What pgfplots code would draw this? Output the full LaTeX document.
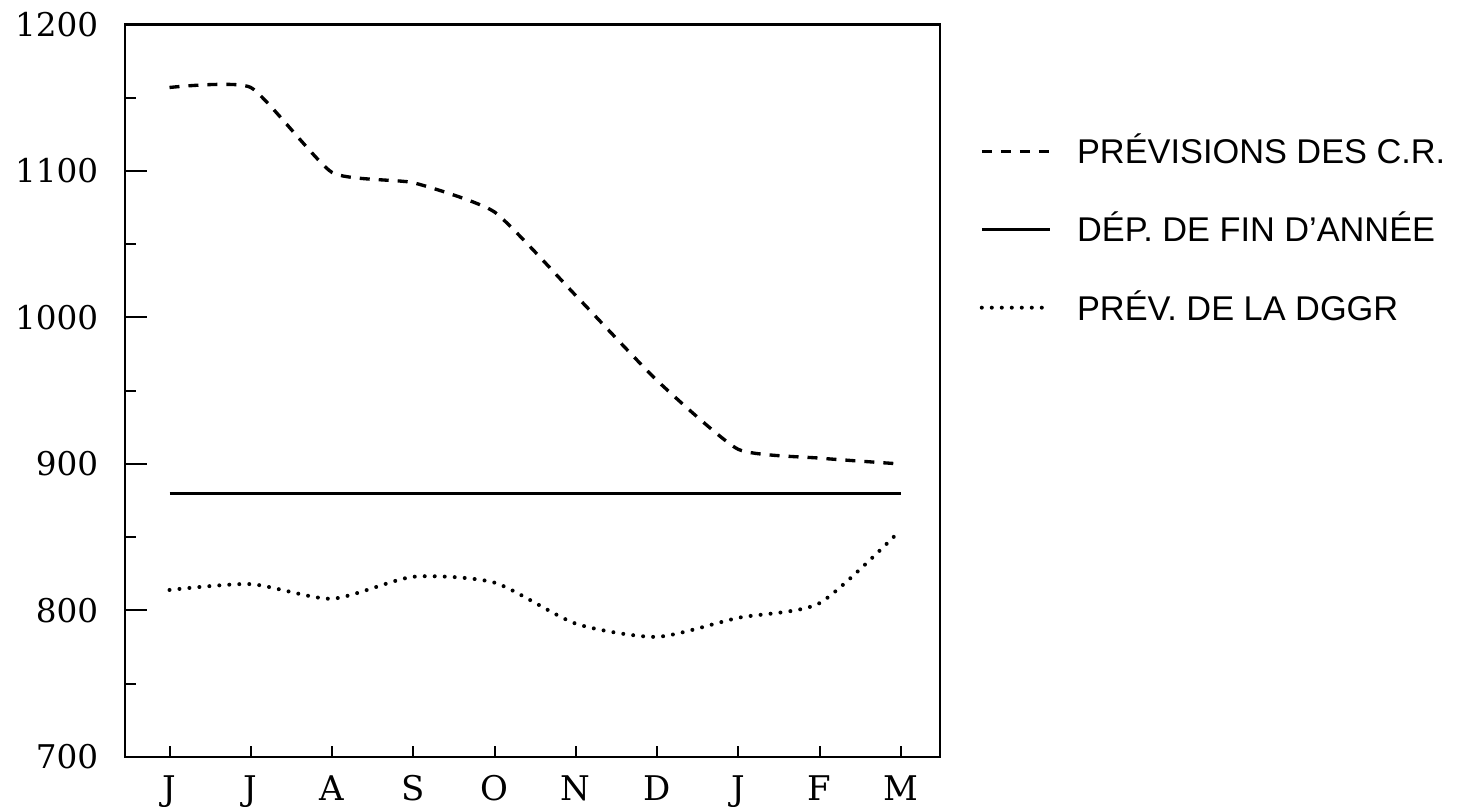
\documentclass[border=0pt]{standalone}
\usepackage{fontspec}
\setmainfont{Liberation Sans}
\newfontfamily\tickfont{DejaVu Serif}
\usepackage{pgfplots}
\pgfplotsset{compat=1.18}
\begin{document}
\begin{tikzpicture}
\begin{axis}[
  name=ax,
  scale only axis,
  width=244.5pt, height=219.75pt,
  xmin=-0.548, xmax=9.483,
  ymin=700, ymax=1200,
  xtick={0,...,9},
  xticklabels={J,J,A,S,O,N,D,J,F,M},
  minor xtick={0,...,9},
  major x tick style={draw=none},
  ytick={700,800,...,1200},
  minor ytick={750,850,...,1150},
  xtick pos=bottom, ytick pos=left,
  tick align=inside,
  major tick length=6.5pt,
  minor tick length=3.2pt,
  every tick/.style={black, line width=0.6pt},
  axis line style={line width=0.7pt},
  /pgf/number format/1000 sep={},
  /pgf/number format/assume math mode=true,
  yticklabel style={font=\tickfont\fontsize{9.8}{11}\selectfont, xshift=-4.5pt},
  xticklabel style={font=\tickfont\fontsize{10.2}{12}\selectfont, yshift=-2pt},
  legend style={at={(1.048,0.72)}, anchor=west, draw=none, fill=none,
    inner sep=0pt, row sep=13pt, column sep=4pt,
    nodes={inner xsep=3.5pt, inner ysep=0pt},
    font=\fontsize{10.3}{12}\selectfont},
  legend cell align=left,
  legend image code/.code={\draw[#1] (0cm,0cm) -- (0.72cm,0cm);},
]
\addplot[black, line width=1pt, dash pattern=on 3pt off 2.7pt, smooth, tension=0.3] coordinates {
(0,1157) (1,1157) (2,1099) (3,1092) (4,1072) (5,1015) (6,957) (7,910) (8,904) (9,900)
};
\addlegendentry{PRÉVISIONS DES C.R.}
\addplot[black, line width=0.85pt] coordinates {
(0,880) (1,880) (2,880) (3,880) (4,880) (5,880) (6,880) (7,880) (8,880) (9,880)
};
\addlegendentry{DÉP. DE FIN D’ANNÉE}
\addplot[black, line width=1.2pt, line cap=round, dash pattern=on 0pt off 3pt, smooth, tension=0.4] coordinates {
(0,814) (1,818) (2,808) (3,823) (4,819) (5,791) (6,782) (7,795) (8,805) (9,855)
};
\addlegendentry{PRÉV. DE LA DGGR}
\end{axis}
\pgfresetboundingbox
\path ([xshift=-37.5pt,yshift=-15pt]ax.south west) rectangle ([xshift=157.8pt,yshift=7.35pt]ax.north east);
\end{tikzpicture}
\end{document}
